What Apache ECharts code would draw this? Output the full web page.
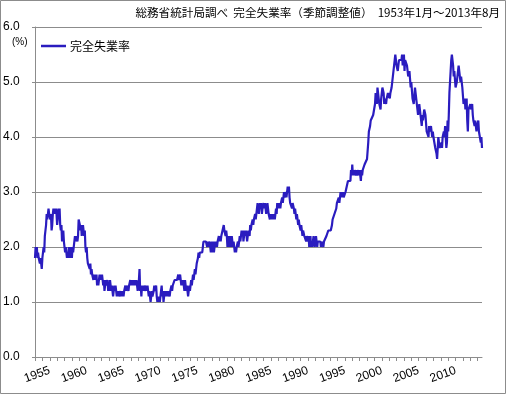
<!DOCTYPE html>
<html>
<head>
<meta charset="utf-8">
<script src="https://cdn.jsdelivr.net/npm/echarts@6/dist/echarts.min.js"></script>
<style>
html,body{margin:0;padding:0;background:#fff;}
#chart{width:507px;height:395px;}
</style>
</head>
<body>
<div id="chart"></div>
<script>
// Monthly values by year (1953-01 .. 2013-08)
const y1953 = [1.8, 2.0, 1.9, 2.0, 1.8, 1.9, 1.8, 1.8, 1.7, 1.8, 1.7, 1.6];
const y1954 = [1.8, 1.9, 2.0, 1.9, 2.2, 2.3, 2.4, 2.6, 2.5, 2.6, 2.7, 2.6];
const y1955 = [2.6, 2.5, 2.6, 2.3, 2.4, 2.6, 2.7, 2.6, 2.7, 2.6, 2.7, 2.6];
const y1956 = [2.4, 2.5, 2.7, 2.6, 2.7, 2.4, 2.3, 2.4, 2.1, 2.2, 2.3, 2.1];
const y1957 = [2.0, 1.9, 2.0, 1.9, 1.8, 1.9, 1.8, 2.0, 1.9, 1.8, 2.0, 1.9];
const y1958 = [1.8, 2.0, 1.9, 2.0, 2.0, 2.2, 2.1, 2.2, 2.2, 2.1, 2.2, 2.5];
const y1959 = [2.5, 2.4, 2.3, 2.4, 2.2, 2.3, 2.4, 2.3, 2.2, 2.3, 2.0, 1.9];
const y1960 = [2.0, 1.8, 1.7, 1.7, 1.7, 1.6, 1.7, 1.5, 1.6, 1.5, 1.5, 1.4];
const y1961 = [1.5, 1.4, 1.5, 1.4, 1.5, 1.3, 1.4, 1.3, 1.4, 1.5, 1.4, 1.5];
const y1962 = [1.4, 1.5, 1.4, 1.3, 1.4, 1.2, 1.3, 1.4, 1.3, 1.3, 1.4, 1.2];
const y1963 = [1.3, 1.2, 1.4, 1.3, 1.2, 1.3, 1.2, 1.1, 1.2, 1.3, 1.2, 1.3];
const y1964 = [1.2, 1.1, 1.2, 1.1, 1.2, 1.1, 1.1, 1.2, 1.1, 1.2, 1.1, 1.2];
const y1965 = [1.1, 1.2, 1.2, 1.3, 1.2, 1.3, 1.3, 1.3, 1.2, 1.3, 1.3, 1.4];
const y1966 = [1.3, 1.4, 1.3, 1.4, 1.3, 1.4, 1.3, 1.4, 1.3, 1.4, 1.3, 1.2];
const y1967 = [1.3, 1.4, 1.6, 1.2, 1.3, 1.1, 1.3, 1.2, 1.3, 1.2, 1.3, 1.3];
const y1968 = [1.2, 1.3, 1.2, 1.3, 1.2, 1.1, 1.2, 1.1, 1.0, 1.1, 1.2, 1.1];
const y1969 = [1.1, 1.2, 1.3, 1.2, 1.2, 1.3, 1.1, 1.0, 1.1, 1.0, 1.1, 1.0];
const y1970 = [1.1, 1.2, 1.3, 1.1, 1.2, 1.0, 1.1, 1.2, 1.1, 1.2, 1.1, 1.2];
const y1971 = [1.1, 1.2, 1.2, 1.1, 1.2, 1.2, 1.3, 1.2, 1.3, 1.3, 1.3, 1.4];
const y1972 = [1.4, 1.4, 1.4, 1.4, 1.4, 1.5, 1.4, 1.4, 1.5, 1.4, 1.3, 1.4];
const y1973 = [1.3, 1.4, 1.3, 1.2, 1.4, 1.3, 1.2, 1.3, 1.2, 1.1, 1.2, 1.3];
const y1974 = [1.2, 1.3, 1.4, 1.3, 1.4, 1.5, 1.4, 1.5, 1.6, 1.5, 1.6, 1.7];
const y1975 = [1.7, 1.8, 1.9, 1.8, 1.9, 1.9, 1.9, 1.9, 1.9, 2.0, 2.1, 2.1];
const y1976 = [2.1, 2.1, 2.1, 2.1, 2.0, 2.1, 2.0, 2.1, 2.1, 2.0, 1.9, 2.1];
const y1977 = [2.0, 1.9, 2.1, 1.9, 2.0, 2.1, 2.0, 2.1, 2.0, 2.1, 2.1, 2.2];
const y1978 = [2.1, 2.2, 2.1, 2.2, 2.2, 2.3, 2.3, 2.4, 2.3, 2.3, 2.2, 2.3];
const y1979 = [2.2, 2.0, 2.1, 2.2, 2.0, 2.2, 2.1, 2.0, 2.2, 2.1, 2.0, 2.1];
const y1980 = [2.0, 1.9, 2.0, 1.9, 2.0, 2.0, 2.1, 2.0, 2.1, 2.2, 2.1, 2.2];
const y1981 = [2.3, 2.2, 2.3, 2.1, 2.2, 2.3, 2.2, 2.3, 2.2, 2.1, 2.2, 2.3];
const y1982 = [2.3, 2.2, 2.4, 2.3, 2.4, 2.4, 2.5, 2.4, 2.5, 2.5, 2.6, 2.5];
const y1983 = [2.6, 2.7, 2.8, 2.7, 2.6, 2.7, 2.8, 2.7, 2.8, 2.6, 2.7, 2.7];
const y1984 = [2.8, 2.7, 2.8, 2.7, 2.6, 2.7, 2.8, 2.7, 2.6, 2.6, 2.5, 2.6];
const y1985 = [2.5, 2.6, 2.5, 2.6, 2.5, 2.6, 2.5, 2.6, 2.7, 2.6, 2.8, 2.7];
const y1986 = [2.8, 2.7, 2.8, 2.7, 2.8, 2.8, 2.9, 2.8, 2.9, 3.0, 2.9, 2.9];
const y1987 = [3.0, 2.9, 3.0, 3.1, 3.0, 3.1, 2.9, 2.8, 2.8, 2.8, 2.7, 2.8];
const y1988 = [2.8, 2.7, 2.6, 2.7, 2.6, 2.5, 2.6, 2.5, 2.4, 2.5, 2.4, 2.4];
const y1989 = [2.3, 2.4, 2.3, 2.2, 2.3, 2.3, 2.2, 2.2, 2.2, 2.1, 2.2, 2.2];
const y1990 = [2.1, 2.2, 2.0, 2.1, 2.2, 2.0, 2.1, 2.0, 2.1, 2.2, 2.1, 2.0];
const y1991 = [2.1, 2.2, 2.1, 2.0, 2.1, 2.1, 2.1, 2.1, 2.1, 2.0, 2.1, 2.1];
const y1992 = [2.1, 2.0, 2.1, 2.1, 2.1, 2.1, 2.2, 2.2, 2.2, 2.3, 2.3, 2.3];
const y1993 = [2.3, 2.3, 2.3, 2.4, 2.5, 2.5, 2.5, 2.6, 2.6, 2.6, 2.7, 2.8];
const y1994 = [2.8, 2.8, 2.9, 2.8, 2.9, 3.0, 2.9, 3.0, 2.9, 3.0, 2.9, 2.9];
const y1995 = [2.9, 3.0, 3.0, 3.1, 3.1, 3.2, 3.2, 3.2, 3.2, 3.2, 3.4, 3.3];
const y1996 = [3.5, 3.3, 3.4, 3.3, 3.4, 3.4, 3.3, 3.4, 3.3, 3.3, 3.4, 3.3];
const y1997 = [3.4, 3.3, 3.2, 3.4, 3.3, 3.4, 3.4, 3.4, 3.5, 3.5, 3.5, 3.5];
const y1998 = [3.6, 3.6, 3.9, 4.1, 4.1, 4.2, 4.3, 4.3, 4.3, 4.3, 4.4, 4.4];
const y1999 = [4.4, 4.6, 4.8, 4.8, 4.6, 4.9, 4.9, 4.7, 4.6, 4.6, 4.5, 4.7];
const y2000 = [4.7, 4.9, 4.9, 4.8, 4.6, 4.7, 4.7, 4.6, 4.7, 4.7, 4.8, 4.8];
const y2001 = [4.8, 4.7, 4.8, 4.8, 4.9, 5.0, 5.0, 5.0, 5.3, 5.4, 5.5, 5.5];
const y2002 = [5.3, 5.3, 5.2, 5.3, 5.4, 5.4, 5.4, 5.4, 5.4, 5.5, 5.3, 5.4];
const y2003 = [5.5, 5.2, 5.4, 5.4, 5.4, 5.3, 5.3, 5.1, 5.1, 5.2, 5.2, 4.9];
const y2004 = [5.0, 5.0, 4.7, 4.7, 4.6, 4.6, 4.9, 4.8, 4.7, 4.7, 4.5, 4.4];
const y2005 = [4.5, 4.6, 4.5, 4.4, 4.4, 4.2, 4.4, 4.3, 4.3, 4.5, 4.5, 4.4];
const y2006 = [4.4, 4.1, 4.1, 4.1, 4.0, 4.2, 4.1, 4.1, 4.2, 4.1, 4.0, 4.1];
const y2007 = [4.0, 4.0, 4.0, 3.8, 3.8, 3.7, 3.6, 3.8, 4.0, 4.0, 3.8, 3.8];
const y2008 = [3.8, 3.9, 3.8, 4.0, 4.0, 4.1, 4.0, 4.2, 4.0, 3.8, 3.9, 4.3];
const y2009 = [4.1, 4.4, 4.8, 5.0, 5.2, 5.4, 5.5, 5.4, 5.3, 5.1, 5.2, 5.2];
const y2010 = [4.9, 4.9, 5.0, 5.1, 5.2, 5.3, 5.2, 5.1, 5.0, 5.1, 5.1, 4.9];
const y2011 = [4.9, 4.6, 4.6, 4.7, 4.5, 4.6, 4.7, 4.3, 4.1, 4.5, 4.5, 4.5];
const y2012 = [4.6, 4.5, 4.5, 4.6, 4.4, 4.3, 4.3, 4.2, 4.3, 4.2, 4.1, 4.2];
const y2013 = [4.2, 4.3, 4.1, 4.1, 4.1, 3.9, 4.0, 3.8];

const yearBlocks = [y1953,y1954,y1955,y1956,y1957,y1958,y1959,y1960,y1961,y1962,
  y1963,y1964,y1965,y1966,y1967,y1968,y1969,y1970,y1971,y1972,y1973,y1974,y1975,
  y1976,y1977,y1978,y1979,y1980,y1981,y1982,y1983,y1984,y1985,y1986,y1987,y1988,
  y1989,y1990,y1991,y1992,y1993,y1994,y1995,y1996,y1997,y1998,y1999,y2000,y2001,
  y2002,y2003,y2004,y2005,y2006,y2007,y2008,y2009,y2010,y2011,y2012,y2013];
const firstYear = 1953;
const seriesName = '完全失業率';
const titleText = '総務省統計局調べ  完全失業率（季節調整値）  1953年1月～2013年8月';
const unitText = '(%)';

// Build category list (YYYY-MM) and flat value list
const categories = [];
const values = [];
yearBlocks.forEach((arr, k) => {
  arr.forEach((v, m) => {
    categories.push((firstYear + k) + '-' + String(m + 1).padStart(2, '0'));
    values.push(v);
  });
});

const chart = echarts.init(document.getElementById('chart'), null, {renderer: 'canvas'});
const FONT = '"Noto Sans CJK JP", "Liberation Sans", sans-serif';
chart.setOption({
  animation: false,
  backgroundColor: '#ffffff',
  title: {
    text: titleText,
    right: 7,
    top: 7,
    padding: 0,
    textStyle: {fontSize: 11.6, fontWeight: 'normal', color: '#000', fontFamily: FONT}
  },
  legend: {
    data: [{name: seriesName, icon: 'rect'}],
    left: 41,
    top: 40,
    padding: 0,
    itemWidth: 25,
    itemHeight: 2.5,
    itemGap: 5,
    textStyle: {fontSize: 12, color: '#000', fontFamily: FONT, padding: [0, 0, 0, -1]}
  },
  graphic: [
    {type: 'rect', shape: {x: 0.5, y: 0.5, width: 505, height: 393},
     style: {fill: 'none', stroke: '#8c8c8c', lineWidth: 1}, silent: true},
    {type: 'text', left: 12, top: 37,
     style: {text: unitText, fill: '#000', font: '10px "Liberation Sans", sans-serif'}}
  ],
  grid: {left: 35, right: 25, top: 27, bottom: 38, containLabel: false},
  xAxis: {
    type: 'category',
    data: categories,
    boundaryGap: false,
    axisLine: {lineStyle: {color: '#8c8c8c', width: 1}},
    axisTick: {
      show: true,
      length: 4,
      interval: (i, v) => v.endsWith('-01'),
      lineStyle: {color: '#8c8c8c'}
    },
    axisLabel: {
      interval: (i, v) => v.endsWith('-01') && (parseInt(v.slice(0, 4), 10) % 5 === 0),
      formatter: v => v.slice(0, 4),
      rotate: 20,
      margin: 13,
      fontSize: 12,
      color: '#000',
      fontFamily: '"Liberation Sans", sans-serif'
    },
    splitLine: {show: false}
  },
  yAxis: {
    type: 'value',
    min: 0,
    max: 6,
    interval: 1,
    axisLine: {show: true, lineStyle: {color: '#8c8c8c', width: 1}},
    axisTick: {show: true, length: 3, lineStyle: {color: '#8c8c8c'}},
    axisLabel: {
      formatter: v => v.toFixed(1),
      align: 'left',
      margin: 32,
      fontSize: 12,
      color: '#000',
      fontFamily: '"Liberation Sans", sans-serif'
    },
    splitLine: {show: true, lineStyle: {color: '#8c8c8c', width: 1}}
  },
  series: [{
    name: seriesName,
    type: 'line',
    data: values,
    showSymbol: false,
    symbol: 'none',
    lineStyle: {color: '#2a1cbf', width: 2.2},
    itemStyle: {color: '#2a1cbf'}
  }]
});
</script>
</body>
</html>
